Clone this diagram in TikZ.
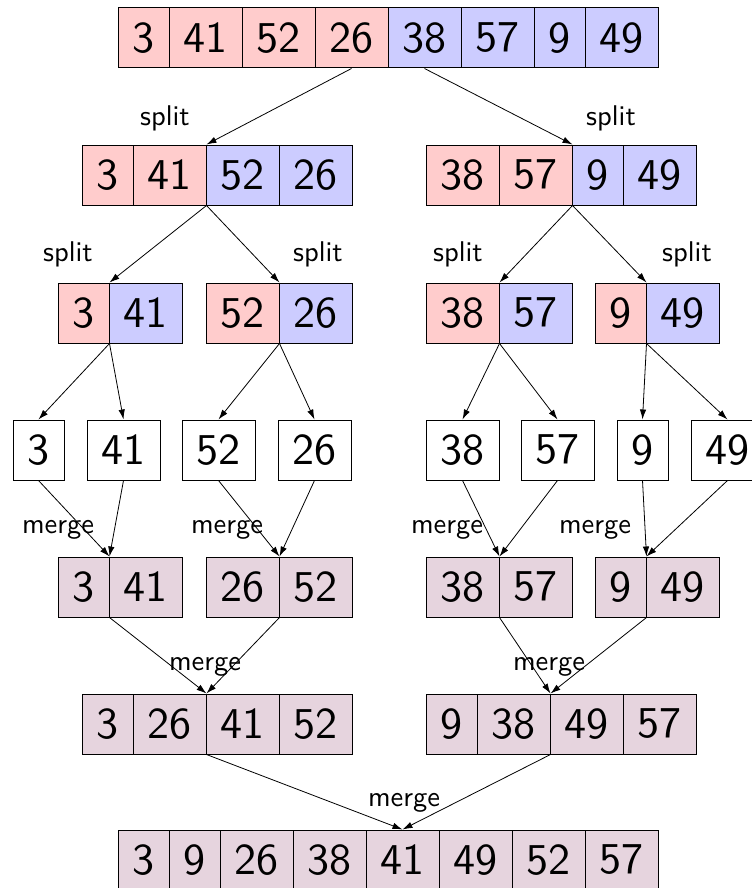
\documentclass[tikz,border=0pt]{standalone}
\usepackage{fontspec}
\usetikzlibrary{arrows.meta}
\newfontfamily\boxfont{lmsans10-regular.otf}
\definecolor{lofill}{RGB}{255,204,204}
\definecolor{hifill}{RGB}{204,204,255}
\definecolor{mgfill}{RGB}{230,212,222}
\tikzset{
  cell/.style={draw, line width=0.5pt, inner sep=0pt, minimum width=25.5pt, minimum height=30pt, font=\fontsize{22}{26}\selectfont\boxfont},
  wide/.style={minimum width=36.5pt},
  lo/.style={cell, fill=lofill},
  hi/.style={cell, fill=hifill},
  leaf/.style={cell, fill=white},
  mg/.style={cell, fill=mgfill},
  tag/.style={inner sep=0pt, font=\fontsize{14.25}{17}\selectfont\boxfont}
}
\begin{document}
\begin{tikzpicture}[x=0.5pt,y=-0.5pt,>={Latex[length=5pt,width=3.2pt]}]
\useasboundingbox (0,0) rectangle (751,888);
\node[lo] (a1) at (143.5,38) {3};
\node[lo,wide] (a2) at (205.5,38) {41};
\node[lo,wide] (a3) at (278.5,38) {52};
\node[lo,wide] (a4) at (351.5,38) {26};
\node[hi,wide] (a5) at (424.5,38) {38};
\node[hi,wide] (a6) at (497.5,38) {57};
\node[hi] (a7) at (559.5,38) {9};
\node[hi,wide] (a8) at (621.5,38) {49};
\node[lo] (b1) at (107.5,175) {3};
\node[lo,wide] (b2) at (169.5,175) {41};
\node[hi,wide] (b3) at (242.5,175) {52};
\node[hi,wide] (b4) at (315.5,175) {26};
\node[lo,wide] (b5) at (462.5,175) {38};
\node[lo,wide] (b6) at (535.5,175) {57};
\node[hi] (b7) at (597.5,175) {9};
\node[hi,wide] (b8) at (659.5,175) {49};
\node[lo] (c1) at (83.5,313) {3};
\node[hi,wide] (c2) at (145.5,313) {41};
\node[lo,wide] (c3) at (242.5,313) {52};
\node[hi,wide] (c4) at (315.5,313) {26};
\node[lo,wide] (c5) at (462.5,313) {38};
\node[hi,wide] (c6) at (535.5,313) {57};
\node[lo] (c7) at (620.5,313) {9};
\node[hi,wide] (c8) at (682.5,313) {49};
\node[leaf] (d1) at (38.5,450) {3};
\node[leaf,wide] (d2) at (123.5,450) {41};
\node[leaf,wide] (d3) at (218.5,450) {52};
\node[leaf,wide] (d4) at (314.5,450) {26};
\node[leaf,wide] (d5) at (462.5,450) {38};
\node[leaf,wide] (d6) at (557.5,450) {57};
\node[leaf] (d7) at (642.5,450) {9};
\node[leaf,wide] (d8) at (727.5,450) {49};
\node[mg] (e1) at (83.5,587) {3};
\node[mg,wide] (e2) at (145.5,587) {41};
\node[mg,wide] (e3) at (242.5,587) {26};
\node[mg,wide] (e4) at (315.5,587) {52};
\node[mg,wide] (e5) at (462.5,587) {38};
\node[mg,wide] (e6) at (535.5,587) {57};
\node[mg] (e7) at (620.5,587) {9};
\node[mg,wide] (e8) at (682.5,587) {49};
\node[mg] (f1) at (107.5,724) {3};
\node[mg,wide] (f2) at (169.5,724) {26};
\node[mg,wide] (f3) at (242.5,724) {41};
\node[mg,wide] (f4) at (315.5,724) {52};
\node[mg] (f5) at (451.5,724) {9};
\node[mg,wide] (f6) at (513.5,724) {38};
\node[mg,wide] (f7) at (586.5,724) {49};
\node[mg,wide] (f8) at (659.5,724) {57};
\node[mg] (g1) at (143.5,860) {3};
\node[mg] (g2) at (194.5,860) {9};
\node[mg,wide] (g3) at (256.5,860) {26};
\node[mg,wide] (g4) at (329.5,860) {38};
\node[mg,wide] (g5) at (402.5,860) {41};
\node[mg,wide] (g6) at (475.5,860) {49};
\node[mg,wide] (g7) at (548.5,860) {52};
\node[mg,wide] (g8) at (621.5,860) {57};
\node[tag] (s1) at (165,118) {split};
\node[tag] (s2) at (611,118) {split};
\node[tag] (s3) at (68,254) {split};
\node[tag] (s4) at (318,254) {split};
\node[tag] (s5) at (458,254) {split};
\node[tag] (s6) at (687,254) {split};
\node[tag] (m1) at (58,530) {merge};
\node[tag] (m2) at (227,530) {merge};
\node[tag] (m3) at (447,530) {merge};
\node[tag] (m4) at (595,530) {merge};
\node[tag] (m5) at (205,667) {merge};
\node[tag] (m6) at (549,667) {merge};
\node[tag] (m7) at (404,803) {merge};
\draw[->] (a4.south) -- (b2.north east);
\draw[->] (a5.south) -- (b6.north east);
\draw[->] (b2.south east) -- (c1.north east);
\draw[->] (b2.south east) -- (c3.north east);
\draw[->] (b6.south east) -- (c5.north east);
\draw[->] (b6.south east) -- (c7.north east);
\draw[->] (c1.south east) -- (d1.north);
\draw[->] (c1.south east) -- (d2.north);
\draw[->] (c3.south east) -- (d3.north);
\draw[->] (c3.south east) -- (d4.north);
\draw[->] (c5.south east) -- (d5.north);
\draw[->] (c5.south east) -- (d6.north);
\draw[->] (c7.south east) -- (d7.north);
\draw[->] (c7.south east) -- (d8.north);
\draw[->] (d1.south) -- (e1.north east);
\draw[->] (d2.south) -- (e1.north east);
\draw[->] (d3.south) -- (e3.north east);
\draw[->] (d4.south) -- (e3.north east);
\draw[->] (d5.south) -- (e5.north east);
\draw[->] (d6.south) -- (e5.north east);
\draw[->] (d7.south) -- (e7.north east);
\draw[->] (d8.south) -- (e7.north east);
\draw[->] (e1.south east) -- (f2.north east);
\draw[->] (e3.south east) -- (f2.north east);
\draw[->] (e5.south east) -- (f6.north east);
\draw[->] (e7.south east) -- (f6.north east);
\draw[->] (f2.south east) -- (g5.north);
\draw[->] (f6.south east) -- (g5.north);
\end{tikzpicture}
\end{document}
